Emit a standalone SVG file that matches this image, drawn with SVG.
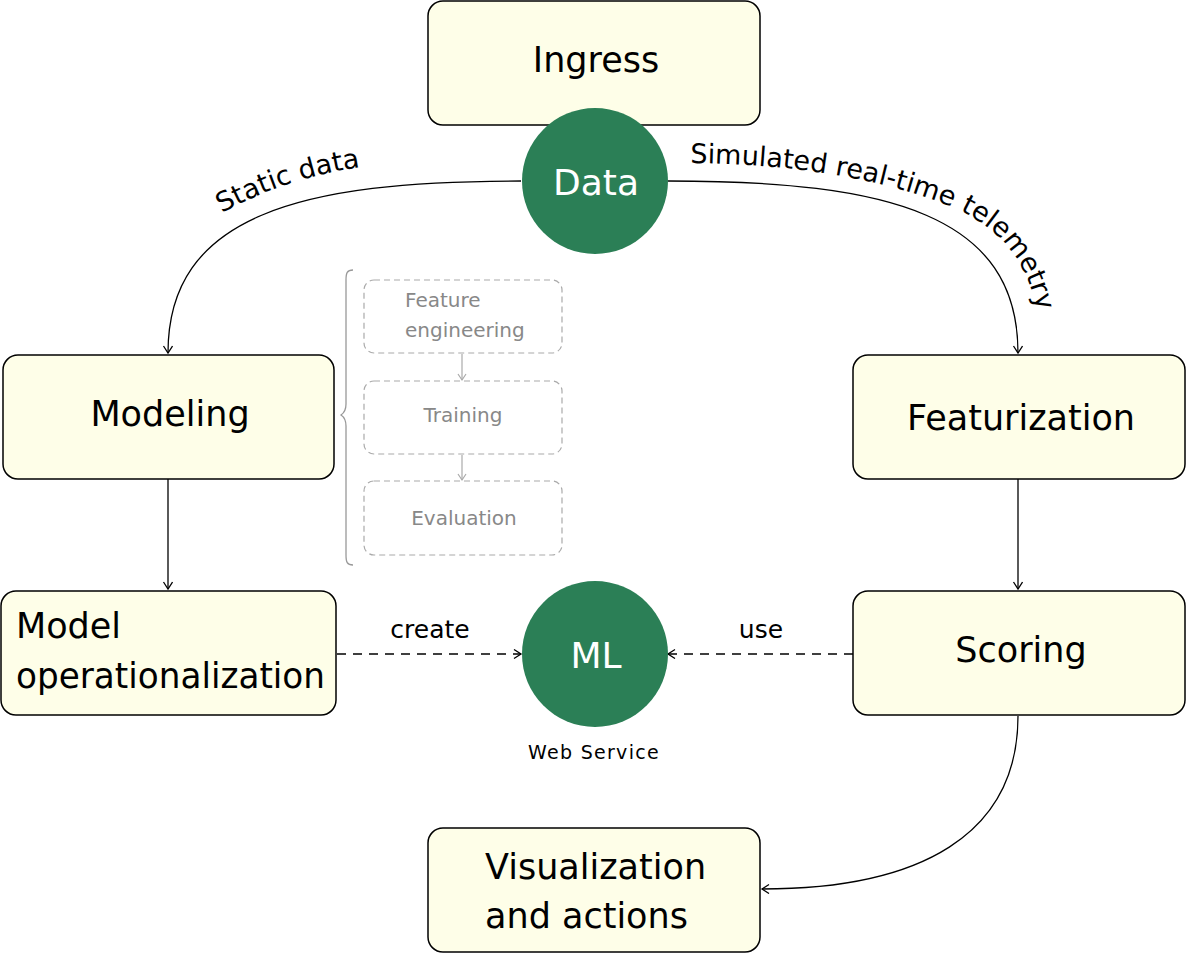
<svg xmlns="http://www.w3.org/2000/svg" width="1186" height="953" viewBox="0 0 1186 953">
<defs>
<style>
.box{fill:#fefee8;stroke:#000;stroke-width:1.5}
.big{font-family:"DejaVu Sans",Verdana,sans-serif;font-size:35px;fill:#000}
.circ{fill:#2b7f56}
.ctext{font-family:"DejaVu Sans",Verdana,sans-serif;font-size:36px;fill:#fff;text-anchor:middle}
.lbl{font-family:"DejaVu Sans",Verdana,sans-serif;font-size:25px;fill:#000}
.clbl{font-family:"DejaVu Sans",Verdana,sans-serif;font-size:27px;fill:#000}
.sub{fill:none;stroke:#aaa;stroke-width:1.2;stroke-dasharray:6 4}
.gtext{font-family:"DejaVu Sans",Verdana,sans-serif;font-size:20px;fill:#888}
.conn{fill:none;stroke:#000;stroke-width:1.3}
.dash{stroke-dasharray:9 7}
.gconn{fill:none;stroke:#aaa;stroke-width:1.2}
</style>
<marker id="arr" markerWidth="12" markerHeight="12" refX="9" refY="5" orient="auto" markerUnits="userSpaceOnUse">
<path d="M2,0.5 L9,5 L2,9.5" fill="none" stroke="#000" stroke-width="1.3"/>
</marker>
<marker id="garr" markerWidth="12" markerHeight="12" refX="9" refY="5" orient="auto" markerUnits="userSpaceOnUse">
<path d="M3,1 L9,5 L3,9" fill="none" stroke="#aaa" stroke-width="1.2"/>
</marker>
<path id="tpL" d="M222,213 C266,189 316,171 384,164"/>
<path id="tpR" d="M690,163 C800,164 885,180 952,207 C1010,232 1038,275 1042,350"/>
</defs>

<g id="connectors">
<path class="conn" d="M521,181 C300,181 168,215 168,353" marker-end="url(#arr)"/>
<path class="conn" d="M668,181 C890,181 1018,215 1018,353" marker-end="url(#arr)"/>
<path class="conn" d="M168,479 L168,589" marker-end="url(#arr)"/>
<path class="conn" d="M1018,479 L1018,589" marker-end="url(#arr)"/>
<path class="conn dash" d="M337,654 L521,654" marker-end="url(#arr)"/>
<path class="conn dash" d="M853,654 L668,654" marker-end="url(#arr)"/>
<path class="conn" d="M1018,716 C1018,835 920,889 762,889" marker-end="url(#arr)"/>
<path class="gconn" d="M462,354 L462,380" marker-end="url(#garr)"/>
<path class="gconn" d="M462,455 L462,480" marker-end="url(#garr)"/>
<text class="clbl"><textPath href="#tpL">Static data</textPath></text>
<text class="clbl"><textPath href="#tpR">Simulated real-time telemetry</textPath></text>
<text class="lbl" x="430" y="638" text-anchor="middle">create</text>
<text class="lbl" x="761" y="638" text-anchor="middle">use</text>
</g>

<g id="ingress">
<rect class="box" x="428" y="1" width="332" height="124" rx="15"/>
<text class="big" x="596" y="72" text-anchor="middle">Ingress</text>
</g>

<g id="data">
<circle class="circ" cx="595" cy="181" r="73"/>
<text class="ctext" x="596" y="195">Data</text>
</g>

<g id="modeling">
<rect class="box" x="3" y="355" width="331" height="124" rx="15"/>
<text class="big" x="170" y="426" text-anchor="middle">Modeling</text>
</g>

<g id="featurization">
<rect class="box" x="853" y="355" width="332" height="124" rx="15"/>
<text class="big" x="1021" y="430" text-anchor="middle">Featurization</text>
</g>

<g id="model-operationalization">
<rect class="box" x="1" y="591" width="335" height="124" rx="15"/>
<text class="big" x="16" y="638">Model</text>
<text class="big" x="16" y="688" textLength="309" lengthAdjust="spacingAndGlyphs">operationalization</text>
</g>

<g id="ml">
<circle class="circ" cx="595" cy="654" r="73"/>
<text class="ctext" x="596" y="668">ML</text>
<text x="594" y="759" text-anchor="middle" style="font-family:'DejaVu Sans',Verdana,sans-serif;font-size:19px;fill:#000;letter-spacing:1.3px">Web Service</text>
</g>

<g id="scoring">
<rect class="box" x="853" y="591" width="332" height="124" rx="15"/>
<text class="big" x="1021" y="662" text-anchor="middle">Scoring</text>
</g>

<g id="visualization">
<rect class="box" x="428" y="828" width="332" height="124" rx="15"/>
<text class="big" x="485" y="879">Visualization</text>
<text class="big" x="485" y="928">and actions</text>
</g>

<g id="modeling-steps">
<path d="M353,270 C347,270 346,273 346,280 L346,404 C346,410 344,413 341,415 C344,417 346,420 346,426 L346,555 C346,562 347,565 353,565" fill="none" stroke="#999" stroke-width="1.3"/>
<g id="feature-engineering">
<rect class="sub" x="364" y="280" width="198" height="73" rx="10"/>
<text class="gtext" x="405" y="307">Feature</text>
<text class="gtext" x="405" y="337">engineering</text>
</g>
<g id="training">
<rect class="sub" x="364" y="381" width="198" height="73" rx="10"/>
<text class="gtext" x="463" y="422" text-anchor="middle">Training</text>
</g>
<g id="evaluation">
<rect class="sub" x="364" y="481" width="198" height="74" rx="10"/>
<text class="gtext" x="464" y="525" text-anchor="middle">Evaluation</text>
</g>
</g>
</svg>
